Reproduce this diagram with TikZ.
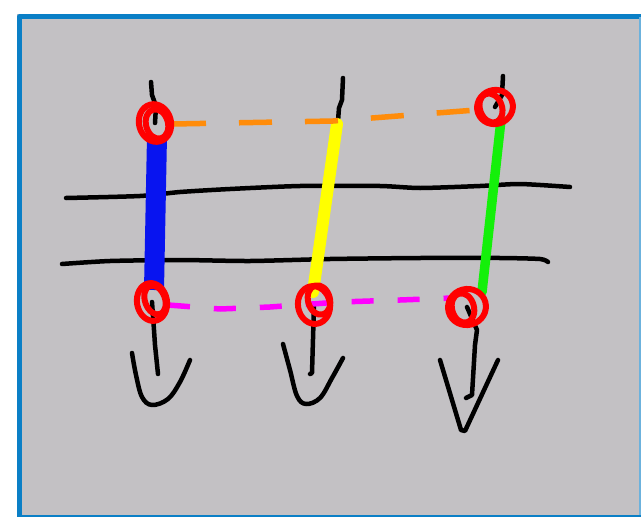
\documentclass[tikz,border=0pt]{standalone}
\usetikzlibrary{calc}
\definecolor{bggray}{RGB}{195,193,196}
\definecolor{frameblue}{RGB}{10,127,198}
\definecolor{barblue}{RGB}{8,20,240}
\definecolor{baryellow}{RGB}{255,255,0}
\definecolor{bargreen}{RGB}{20,240,10}
\definecolor{dashorange}{RGB}{255,140,10}
\definecolor{dashmagenta}{RGB}{255,0,255}
\definecolor{ringred}{RGB}{255,0,0}
\begin{document}
\begin{tikzpicture}[x=1pt,y=-1pt,line cap=round,line join=round,
  pen/.style={draw=black,line width=4.5},
  ring/.style={draw=ringred,line width=6},
  dashline/.style={line width=5.5,line cap=butt}]
\useasboundingbox (0,0) rectangle (641,517);
% frame
\fill[bggray] (17,14) rectangle (641,517);
\draw[frameblue,line width=5,line cap=butt] (19.5,517) -- (19.5,16.5) -- (641,16.5);
\draw[frameblue!60,line width=1.5,line cap=butt] (640,17) -- (640,517);
\draw[frameblue,line width=2.5,line cap=butt] (17,516) -- (641,516);
% key points
\coordinate (LT) at (155,123);
\coordinate (LB) at (152,302);
\coordinate (MT) at (338,121);
\coordinate (MB) at (314,305);
\coordinate (RT) at (495,107);
\coordinate (RB) at (467,307);
% horizontal lines
\draw[pen] plot[smooth,tension=0.4] coordinates {(66,198) (140,196) (180,192) (230,189) (300,186) (380,186) (420,188) (480,186) (520,184) (570,187)};
\draw[pen] plot[smooth,tension=0.4] coordinates {(62,264) (110,261) (180,260) (250,261) (330,259) (420,258) (500,258) (540,259) (548,262)};
% top tails
\draw[pen] (151,82) -- (152,95) -- (156,106) -- (LT);
\draw[pen] (343,78) -- (342,100) -- (339,108) -- (MT);
\draw[pen] (503,76) -- (502,95) -- (RT);
% stems
\draw[pen] (LB) -- (154,330) -- (155,345) -- (158,374);
\draw[pen] (MB) -- (312,373) -- (310,374);
\draw[pen] (RB) -- (477,330) -- (475,345) -- (472,395) -- (466,398);
% arrowheads
\draw[pen] plot[smooth,tension=0.6] coordinates {(132,353) (136,375) (142,397) (152,405) (168,399) (180,382) (190,360)};
\draw[pen] plot[smooth,tension=0.6] coordinates {(283,344) (290,370) (297,396) (306,404) (320,398) (332,378) (343,358)};
\draw[pen] (440,360) -- (461,430) -- (465,431) -- (498,360);
% coloured bars
\draw[barblue,line width=20,line cap=butt] (157,136) -- (154,290);
\draw[baryellow,line width=12] (337,124) -- (313,292);
\draw[bargreen,line width=9.5] (501,120) -- (482,292);
% dashed links
\draw[dashorange,dashline,dash pattern=on 33pt off 33pt] (173,124) -- (333,121) -- (476,110);
\draw[dashmagenta,dashline,dash pattern=on 22pt off 24pt] plot coordinates {(168,305) (220,309) (270,307) (340,302) (400,300) (452,298)};
% rings
\draw[ring] (LT) ellipse [x radius=16,y radius=19,rotate=15];
\draw[ring] ($(LT)+(2,1)$) ellipse [x radius=11,y radius=15,rotate=15];
\draw[ring] (LB) ellipse [x radius=15,y radius=19,rotate=10];
\draw[ring] (155,300) ellipse [x radius=10,y radius=15,rotate=20];
\draw[ring] (MB) ellipse [x radius=16,y radius=19,rotate=10];
\draw[ring] (319,300) ellipse [x radius=11,y radius=15,rotate=15];
\draw[ring] (RT) ellipse [x radius=18,y radius=17,rotate=20];
\draw[ring] (491,108) ellipse [x radius=11,y radius=15,rotate=20];
\draw[ring] (RB) ellipse [x radius=19,y radius=18,rotate=15];
\draw[ring] (463,308) ellipse [x radius=11,y radius=15,rotate=15];
\end{tikzpicture}
\end{document}
